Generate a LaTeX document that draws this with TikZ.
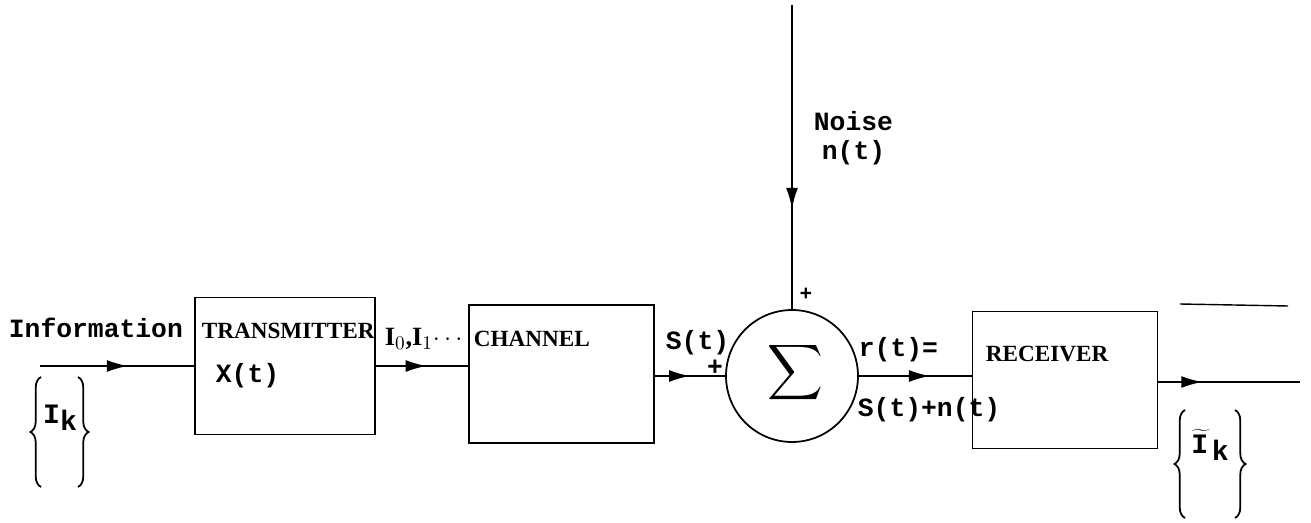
\documentclass[tikz,border=0pt]{standalone}
\usepackage{fontspec}
\setmainfont{Liberation Serif}
\setmonofont{Liberation Mono}
\usetikzlibrary{arrows.meta,decorations.markings,decorations.pathreplacing}
\begin{document}
\begin{tikzpicture}[x=0.02cm,y=-0.02cm,line width=1pt,
  blk/.style={draw,minimum width=3.7cm,minimum height=2.74cm,inner sep=0pt},
  tt/.style={font=\fontsize{15}{17}\selectfont\ttfamily\bfseries,inner sep=0pt,anchor=west},
  nm/.style={font=\fontsize{13.2}{15}\selectfont\bfseries,inner sep=0pt,anchor=west},
  pm/.style={font=\fontsize{15}{15}\selectfont\ttfamily\bfseries,inner sep=0pt},
  midarr/.style={postaction={decorate},decoration={markings,
    mark=at position #1 with {\arrow{Latex[length=0.42cm,width=0.24cm]}}}},
  brc/.style={decorate,decoration={brace,amplitude=6pt,aspect=0.5}}]
\useasboundingbox (0,0) rectangle (1311,523);
\node[blk,minimum width=3.6cm] (tx) at (285,366) {};
\node[blk,minimum height=2.76cm] (ch) at (561.5,374) {};
\node[draw,circle,minimum size=2.64cm,inner sep=0pt] (sum) at (792,376) {};
\node[blk] (rx) at (1065,380) {};
\node at (795,373) {\scalebox{2.2}{$\displaystyle\sum$}};
\coordinate (in) at (40,366);
\coordinate (out) at (1300,382);
\coordinate (ntop) at (792,5);
% signal path
\draw[midarr=0.57] (in) -- (in -| tx.west);
\draw[midarr=0.55] (tx.east) -- (tx.east -| ch.west);
\draw[midarr=0.5] (ch.east |- sum.west) -- (sum.west);
\draw[midarr=0.63] (sum.east) -- (sum.east -| rx.west);
\draw[midarr=0.31] (rx.east |- out) -- (out);
\draw[midarr=0.67] (ntop) -- (sum.north);
\draw[line width=0.8pt] (1180,304) -- (1288,306);
% labels
\node[tt] (info) at (8,328) {Information};
\node[nm] at (201,331) {TRANSMITTER};
\node[tt] at (215,376) {X(t)};
\node[font=\fontsize{15}{17}\selectfont\bfseries,inner sep=0pt,anchor=west] at (384,339) {I$_0$,I$_1$$\cdots$};
\node[nm] at (473,339) {CHANNEL};
\node[tt] at (665,343) {S(t)};
\node[pm] at (715,368) {+};
\node[pm,font=\fontsize{12}{12}\selectfont\ttfamily\bfseries] at (806,294) {+};
\node[tt] at (813,121) {Noise};
\node[tt] at (821,153) {n(t)};
\node[tt] at (858,350) {r(t)=};
\node[tt] at (857,410) {S(t)+n(t)};
\node[nm] at (985,354) {RECEIVER};
% {I_k}
\node[font=\fontsize{16}{16}\selectfont\ttfamily\bfseries,inner sep=0pt] (ik) at (60,418) {I\raisebox{-4pt}{k}};
\draw[brc] (41,487) -- (41,377);
\draw[brc] (78,377) -- (78,487);
\node[font=\fontsize{16}{16}\selectfont\ttfamily\bfseries,inner sep=0pt] (ikt) at (1210,445) {$\widetilde{\mbox{I\kern2pt}}$\raisebox{-4pt}{k}};
\draw[brc] (1185,518) -- (1185,410);
\draw[brc] (1235,410) -- (1235,518);
\end{tikzpicture}
\end{document}
